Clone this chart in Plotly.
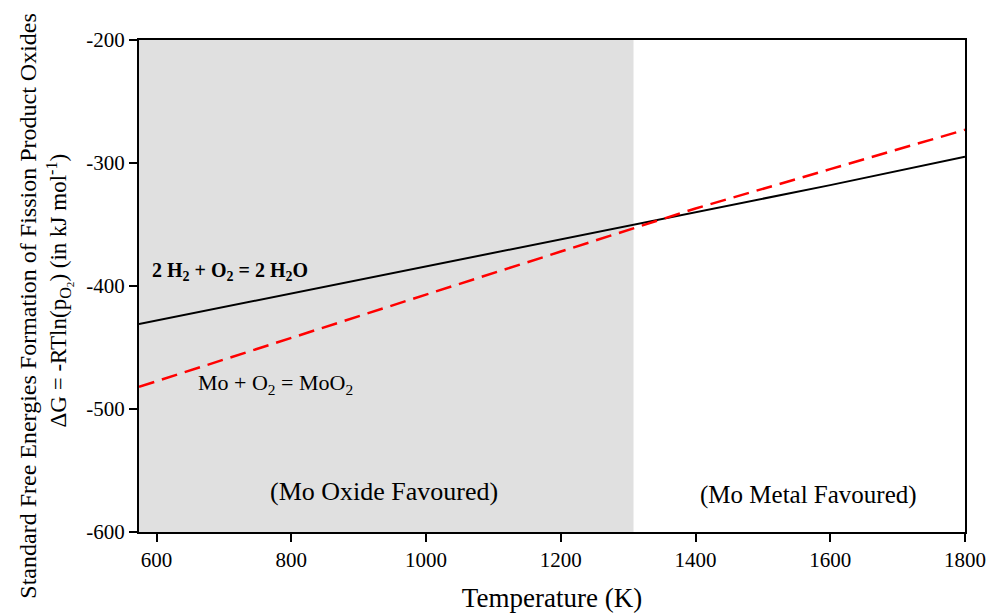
import plotly.graph_objects as go

temperature = [574, 800, 1000, 1200, 1400, 1600, 1800]
dg_h2o = [-431, -406, -384, -362, -340, -318, -295]
dg_moo2 = [-482, -442, -407, -372, -337, -305, -273]
oxide_region = [574, 1308]
x_ticks = [600, 800, 1000, 1200, 1400, 1600, 1800]
y_ticks = [-200, -300, -400, -500, -600]
y_tick_labels = ["-200", "-300", "-400", "-500", "-600"]

FONT = "Liberation Serif, Times New Roman, serif"

fig = go.Figure()
fig.add_trace(go.Scatter(x=temperature, y=dg_h2o, mode="lines",
                         line=dict(color="black", width=2), showlegend=False))
fig.add_trace(go.Scatter(x=temperature, y=dg_moo2, mode="lines",
                         line=dict(color="#ff0000", width=2.5, dash="16px,8px"), showlegend=False))

fig.add_shape(type="rect", xref="x", yref="y", x0=oxide_region[0], x1=oxide_region[1],
              y0=-600, y1=-200, fillcolor="#e0e0e0", line=dict(width=0), layer="below")

fig.add_annotation(x=590, y=-388, xref="x", yref="y", xanchor="left", showarrow=False,
                   text="<b>2 H<sub>2</sub> + O<sub>2</sub> = 2 H<sub>2</sub>O</b>",
                   font=dict(family=FONT, size=20, color="black"))
fig.add_annotation(x=659, y=-480, xref="x", yref="y", xanchor="left", showarrow=False,
                   text="Mo + O<sub>2</sub> = MoO<sub>2</sub>",
                   font=dict(family=FONT, size=22, color="black"))
fig.add_annotation(x=937, y=-567, xref="x", yref="y", showarrow=False,
                   text="(Mo Oxide Favoured)",
                   font=dict(family=FONT, size=26, color="black"))
fig.add_annotation(x=1567, y=-570, xref="x", yref="y", showarrow=False,
                   text="(Mo Metal Favoured)",
                   font=dict(family=FONT, size=25, color="black"))

# y-axis title lines (rotated)
fig.add_annotation(x=-0.1344, y=0.46, xref="paper", yref="paper", showarrow=False,
                   textangle=-90, xanchor="center", yanchor="middle",
                   text="Standard Free Energies Formation of Fission Product Oxides",
                   font=dict(family=FONT, size=24, color="black"))
fig.add_annotation(x=-0.0956, y=0.491, xref="paper", yref="paper", showarrow=False,
                   textangle=-90, xanchor="center", yanchor="middle",
                   text="ΔG = -RTln(p<sub>O<sub>2</sub></sub>) (in kJ mol<sup>-1</sup>)",
                   font=dict(family=FONT, size=23, color="black"))

fig.update_layout(
    width=990, height=616,
    margin=dict(l=139, r=25, t=40, b=84, autoexpand=False),
    plot_bgcolor="white", paper_bgcolor="white",
    font=dict(family=FONT, size=21, color="black"),
    xaxis=dict(range=[574, 1800], tickvals=x_ticks, ticks="outside", ticklen=8,
               tickwidth=1.5, tickcolor="black", showgrid=False, zeroline=False,
               showline=True, linecolor="black", linewidth=2, mirror=True, automargin=False,
               title=dict(text="Temperature (K)", font=dict(family=FONT, size=27), standoff=17),
               tickfont=dict(family=FONT, size=21)),
    yaxis=dict(range=[-600, -200], tickvals=y_ticks, ticktext=y_tick_labels,
               ticks="outside", ticklen=8, tickwidth=1.5, tickcolor="black",
               showgrid=False, zeroline=False, showline=True, linecolor="black",
               linewidth=2, mirror=True, automargin=False,
               tickfont=dict(family=FONT, size=21)),
)

fig.write_html("out.html", config={"displayModeBar": False},
               post_script="document.body.style.margin='0';document.body.style.overflow='hidden';")
